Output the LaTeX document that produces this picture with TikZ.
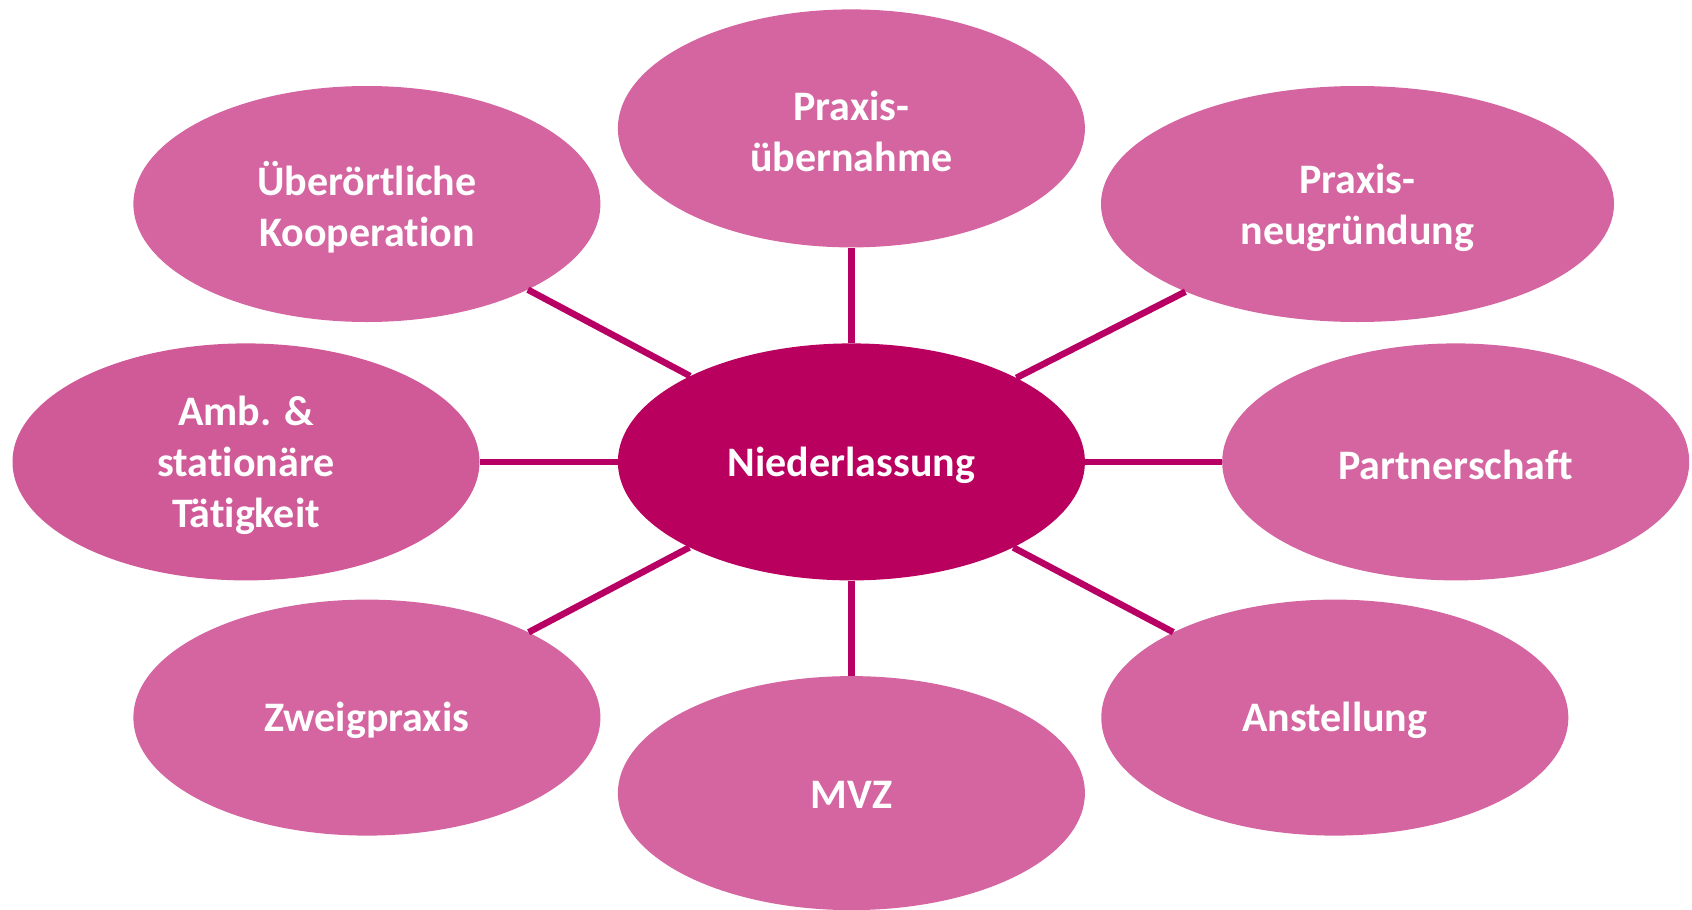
\documentclass[tikz,border=0pt]{standalone}
\usepackage{fontspec}
\setmainfont{Carlito}[RawFeature={-liga;-clig;-calt;-dlig}]
\usetikzlibrary{shapes.geometric}
\definecolor{outerpink}{HTML}{D465A0}
\definecolor{leftpink}{HTML}{CF5A97}
\definecolor{centerpink}{HTML}{B9005F}
\definecolor{linepink}{HTML}{B80064}
\newcommand{\nolig}{\kern0pt{}}
\tikzset{
  bubble/.style={ellipse, fill=outerpink, draw=none, inner sep=0pt,
    minimum width=467pt, minimum height=236pt},
  txt/.style={text=white, align=center, inner sep=0pt,
    font=\fontsize{42}{51}\selectfont\bfseries},
  link/.style={draw=linepink, line width=6.5pt}
}
\begin{document}
\begin{tikzpicture}[x=1pt,y=-1pt]
\useasboundingbox (0,0) rectangle (1692,910);
\node[bubble, fill=centerpink, minimum height=237pt] (c) at (851.4,461.9) {};
\node[bubble, minimum height=238pt] (t) at (851.4,128.4) {};
\node[bubble] (tl) at (366.9,204) {};
\node[bubble, minimum width=513pt] (tr) at (1357.5,204) {};
\node[bubble, fill=leftpink, minimum height=237pt] (l) at (246,461.9) {};
\node[bubble, minimum height=237pt] (r) at (1455.7,461.9) {};
\node[bubble] (bl) at (366.9,717.6) {};
\node[bubble, minimum height=234pt] (b) at (851.4,793.1) {};
\node[bubble] (br) at (1334.8,717.6) {};
\node[txt] (cT) at ([yshift=-3pt]c.center) {Niederlassung};
\node[txt] (tT) at ([yshift=-3pt]t.center) {Praxis-\\übernahme};
\node[txt] (tlT) at ([yshift=-3pt]tl.center) {Überört\nolig liche\\Kooperat\nolig ion};
\node[txt] (trT) at ([yshift=-4pt]tr.center) {Praxis-\\neugründung};
\node[txt] (lT) at ([yshift=-3pt]l.center) {Amb. \&\\stat\nolig ionäre\\Tät\nolig igkeit};
\node[txt] (rT) at ([yshift=-3pt]r.center) {Partnerschaf\nolig t};
\node[txt] (blT) at ([yshift=-3pt]bl.center) {Zweigpraxis};
\node[txt] (bT) at ([yshift=-2pt]b.center) {MVZ};
\node[txt] (brT) at ([yshift=-3pt]br.center) {Anstellung};
\draw[link] (c) -- (t);
\draw[link] (c) -- (tl);
\draw[link] (c) -- (tr);
\draw[link] (c.west) -- (l.east);
\draw[link] (c.east) -- (r.west);
\draw[link] (c) -- (bl);
\draw[link] (c) -- (b);
\draw[link] (c) -- (br);
\end{tikzpicture}
\end{document}
